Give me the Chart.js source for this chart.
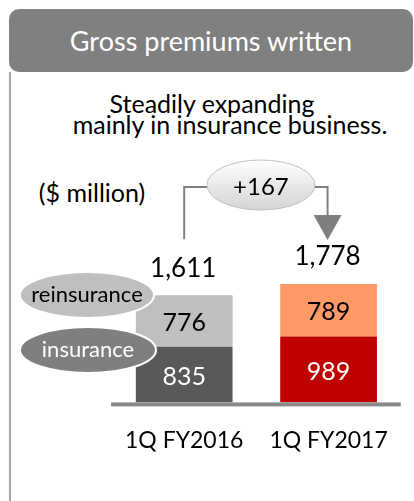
<!DOCTYPE html>
<html>
<head>
<meta charset="utf-8">
<script src="https://cdn.jsdelivr.net/npm/chart.js@4/dist/chart.umd.min.js"></script>
<style>
  html,body{margin:0;padding:0;background:#fff;}
  #wrap{position:relative;width:414px;height:501px;overflow:hidden;font-family:Lato,"Liberation Sans",sans-serif;color:#000;}
  #head{position:absolute;left:9px;top:9px;width:404px;height:63px;background:#808080;border-radius:10px;color:#fff;font-size:27px;line-height:63px;text-align:center;}
  #panel{position:absolute;left:9px;top:72px;width:2px;height:429px;background:#a6a6a6;}
  .txt{position:absolute;white-space:nowrap;transform:translateX(-50%);font-size:25px;line-height:26px;}
  #c{position:absolute;left:0;top:0;}
</style>
</head>
<body>
<div id="wrap">
  <div id="head">Gross premiums written</div>
  <div id="panel"></div>
  <div class="txt" style="left:212px;top:90px;">Steadily expanding</div>
  <div class="txt" style="left:230px;top:111px;">mainly in insurance business.</div>
  <div class="txt" style="left:92px;top:179px;">($ million)</div>
  <canvas id="c" width="414" height="501"></canvas>
</div>
<script>
// データ
const labels = ["1Q FY2016", "1Q FY2017"];
const insurance = [835, 989];
const reinsurance = [776, 789];
const totals = [1611, 1778];
const growth = 167;

const insColor = ["#595959", "#c00000"];
const reColor = ["#bfbfbf", "#ff9966"];

// 凡例の楕円
const drawOval = (ctx, cx, cy, rx, ry, fill, text, textColor) => {
  ctx.beginPath();
  ctx.ellipse(cx, cy, rx, ry, 0, 0, Math.PI * 2);
  ctx.fillStyle = fill;
  ctx.fill();
  ctx.lineWidth = 2;
  ctx.strokeStyle = "#fff";
  ctx.stroke();
  ctx.fillStyle = textColor;
  ctx.fillText(text, cx, cy);
}

// ラベル、矢印など
const annot = {
  id: "annot",
  afterDatasetsDraw(chart) {
    const ctx = chart.ctx;
    const x = chart.scales.x, y = chart.scales.y;
    const area = chart.chartArea;
    ctx.save();

    // 軸線
    ctx.fillStyle = "#888888";
    ctx.fillRect(area.left - 1, y.getPixelForValue(0), area.right - area.left + 1, 4);

    ctx.textAlign = "center";
    ctx.textBaseline = "middle";
    ctx.font = "25px Lato";

    // 各区分の値
    chart.data.datasets.forEach((ds, i) => {
      chart.getDatasetMeta(i).data.forEach((bar, j) => {
        ctx.fillStyle = ds.labelColor;
        ctx.fillText(ds.data[j], bar.x, (bar.y + bar.base) / 2 + 2);
      });
    });

    // 合計
    ctx.fillStyle = "#000";
    ctx.font = "26px Lato";
    totals.forEach((t, j) => {
      ctx.fillText(t.toLocaleString("en-US"), x.getPixelForValue(j) - 1, y.getPixelForValue(t) - 27);
    });

    // 増加分の矢印
    const x1 = x.getPixelForValue(0), x2 = x.getPixelForValue(1) - 1;
    const lineY = 187;
    ctx.strokeStyle = "#808080";
    ctx.lineWidth = 2;
    ctx.beginPath();
    ctx.moveTo(x1, y.getPixelForValue(totals[0]) - 56);
    ctx.lineTo(x1, lineY);
    ctx.lineTo(x2, lineY);
    ctx.lineTo(x2, 216);
    ctx.stroke();
    ctx.fillStyle = "#7f7f7f";
    ctx.beginPath();
    ctx.moveTo(x2 - 14, 215);
    ctx.lineTo(x2 + 14, 215);
    ctx.lineTo(x2, y.getPixelForValue(totals[1]) - 44);
    ctx.closePath();
    ctx.fill();

    const ex = (x1 + x2) / 2 + 5, ey = 185;
    const g = ctx.createLinearGradient(0, ey - 25, 0, ey + 25);
    g.addColorStop(0, "#ffffff");
    g.addColorStop(1, "#d4d4d4");
    ctx.beginPath();
    ctx.ellipse(ex, ey, 54, 25, 0, 0, Math.PI * 2);
    ctx.fillStyle = g;
    ctx.fill();
    ctx.lineWidth = 1;
    ctx.strokeStyle = "#c0c0c0";
    ctx.stroke();
    ctx.fillStyle = "#000";
    ctx.font = "24px Lato";
    ctx.fillText("+" + growth, ex, ey + 2);

    // 凡例
    ctx.font = "22px Lato";
    drawOval(ctx, 87, 295, 67, 23, "#bfbfbf", "reinsurance", "#000");
    drawOval(ctx, 88, 350, 68, 23, "#7f7f7f", "insurance", "#fff");
    ctx.restore();
  }
};

const data = {
  labels: labels,
  datasets: [
    {label: "insurance", data: insurance, backgroundColor: insColor, labelColor: "#fff",
     barPercentage: 0.67, categoryPercentage: 1},
    {label: "reinsurance", data: reinsurance, backgroundColor: reColor, labelColor: "#000",
     barPercentage: 0.67, categoryPercentage: 1}
  ]
};

new Chart(document.getElementById("c"), {
  type: "bar",
  data: data,
  options: {
    responsive: false,
    animation: false,
    layout: {padding: {left: 112, right: 9, top: 236, bottom: 23}},
    plugins: {legend: {display: false}, tooltip: {enabled: false}},
    scales: {
      x: {
        stacked: true,
        grid: {display: false, drawTicks: false},
        border: {display: false},
        ticks: {color: "#000", font: {family: "Lato", size: 23}, padding: 24}
      },
      y: {stacked: true, display: false, min: 0, max: 2500}
    }
  },
  plugins: [annot]
});
</script>
</body>
</html>
